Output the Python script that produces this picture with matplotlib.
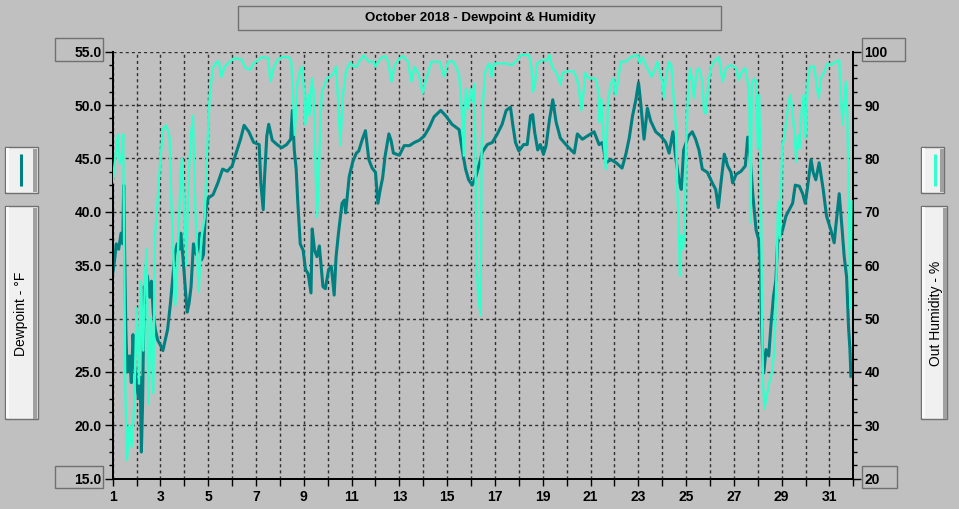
import matplotlib
matplotlib.use("Agg")
import matplotlib.pyplot as plt
from matplotlib.patches import Rectangle
from matplotlib.lines import Line2D
from matplotlib.ticker import MultipleLocator, FixedLocator

plt.rcParams['font.family'] = ['Liberation Sans', 'DejaVu Sans']

title = "October 2018 - Dewpoint & Humidity"
left_label = "Dewpoint - °F"
right_label = "Out Humidity - %"

# dewpoint (deg F)
dew_day = [1.0, 1.08, 1.15, 1.25, 1.35, 1.42, 1.46, 1.5, 1.55, 1.6, 1.7, 1.78, 1.85, 1.92,
           2.0, 2.08, 2.15, 2.2, 2.25, 2.32, 2.4, 2.45, 2.55, 2.62, 2.7, 2.78, 2.88,
           3.0, 3.1, 3.2, 3.3, 3.42, 3.5, 3.6, 3.7, 3.8, 3.85, 3.95,
           4.05, 4.12, 4.2, 4.28, 4.38, 4.5, 4.6, 4.65, 4.72, 4.8, 4.88,
           5.0, 5.2, 5.4, 5.6, 5.8, 6.0, 6.15, 6.35, 6.5, 6.7, 6.9,
           7.13, 7.2, 7.3, 7.35, 7.45, 7.53, 7.68, 7.88, 8.07, 8.28, 8.45, 8.52, 8.6, 8.68,
           8.75, 8.85, 8.97, 9.07, 9.18, 9.3, 9.35, 9.45, 9.55, 9.65, 9.8, 9.9,
           10.04, 10.15, 10.27, 10.35, 10.45, 10.6, 10.7, 10.75, 10.9, 11.05, 11.2,
           11.3, 11.45, 11.58, 11.72, 11.86, 12.0, 12.1, 12.2, 12.3, 12.4, 12.56, 12.65, 12.75,
           13.0, 13.2, 13.42, 13.63, 13.83, 14.04, 14.25, 14.45, 14.73, 14.94, 15.2, 15.5,
           15.63, 15.77, 15.9, 16.05, 16.2, 16.35, 16.47, 16.68, 16.89, 17.1, 17.3, 17.47,
           17.65, 17.75, 17.86, 18.0, 18.2, 18.35, 18.49, 18.58, 18.66, 18.79, 18.9,
           19.03, 19.14, 19.28, 19.42, 19.56, 19.74, 19.97, 20.18, 20.32, 20.45, 20.66,
           20.87, 21.15, 21.36, 21.5, 21.65, 21.85, 22.07, 22.32, 22.48, 22.62, 22.76,
           22.9, 23.01, 23.1, 23.24, 23.38, 23.52, 23.73, 23.94, 24.15, 24.29, 24.45,
           24.56, 24.7, 24.8, 24.9, 25.1, 25.26, 25.4, 25.54, 25.68, 25.89, 26.1, 26.24,
           26.35, 26.46, 26.6, 26.74, 26.88, 26.95, 27.09, 27.3, 27.48, 27.58, 27.68,
           27.79, 27.93, 28.04, 28.11, 28.18, 28.25, 28.35, 28.46, 28.55, 28.66, 28.76,
           28.83, 28.92, 29.04, 29.18, 29.32, 29.46, 29.57, 29.74, 29.88, 29.99, 30.09,
           30.23, 30.32, 30.43, 30.57, 30.74, 30.88, 31.06, 31.2, 31.27, 31.41, 31.52,
           31.62, 31.72, 31.8, 31.86, 31.9]
dew_f = [34.2, 35.5, 37.0, 36.5, 38.0, 37.0, 42.5, 36.0, 29.0, 25.0, 26.5, 24.0, 28.5, 25.5,
         24.0, 22.5, 24.5, 17.5, 22.0, 33.0, 31.5, 34.0, 32.0, 33.5, 30.5, 29.0, 28.0,
         27.5, 27.0, 28.0, 29.0, 31.5, 33.5, 36.0, 37.0, 36.5, 38.0, 35.5,
         32.5, 30.6, 31.5, 33.0, 37.0, 36.0, 37.0, 38.0, 35.5, 36.0, 40.0,
         41.3, 41.6, 42.7, 44.0, 43.8, 44.3, 45.4, 46.8, 48.1, 47.5, 46.5,
         46.3, 42.7, 40.2, 43.0, 47.1, 48.2, 46.7, 46.3, 46.0, 46.3, 46.8, 49.5, 45.8, 44.0,
         40.8, 37.0, 36.4, 34.6, 34.2, 32.4, 38.4, 36.4, 35.8, 36.8, 33.0, 32.8,
         34.6, 34.9, 32.2, 35.8, 38.0, 40.8, 41.1, 39.9, 43.3, 44.7, 45.5,
         45.7, 46.8, 47.6, 44.9, 44.1, 43.7, 40.8, 42.1, 43.2, 45.2, 47.3, 46.7, 45.5,
         45.3, 46.2, 46.2, 46.5, 46.7, 47.1, 47.9, 48.9, 49.5, 49.0, 48.2, 47.7,
         45.8, 44.0, 43.0, 42.5, 43.3, 44.5, 45.6, 46.3, 46.5, 47.3, 48.2, 49.5,
         49.8, 48.1, 46.5, 45.7, 46.3, 46.3, 49.0, 49.1, 47.5, 45.8, 46.3,
         45.4, 46.2, 48.6, 50.5, 48.4, 46.9, 46.3, 45.8, 45.5, 47.3, 46.8,
         47.1, 47.5, 46.3, 46.5, 44.6, 44.9, 44.6, 44.1, 45.4, 46.9, 49.0,
         50.5, 52.1, 50.2, 46.8, 49.7, 48.5, 47.5, 47.1, 46.5, 45.5, 47.5,
         45.2, 43.0, 42.1, 45.8, 47.1, 47.5, 46.8, 45.8, 44.0, 43.7, 42.7, 42.1,
         40.4, 42.7, 45.4, 44.3, 43.7, 42.7, 43.5, 43.8, 44.3, 47.0, 45.2,
         41.7, 38.3, 37.4, 34.9, 28.0, 24.9, 27.1, 26.5, 29.3, 32.1, 33.6,
         37.1, 37.7, 38.3, 39.6, 40.2, 40.8, 42.5, 42.4, 41.7, 40.8, 42.4,
         44.9, 43.7, 43.0, 44.6, 42.1, 39.6, 38.3, 37.1, 38.7, 41.7, 38.7,
         35.8, 33.9, 29.2, 27.1, 24.6]

# outside humidity (%)
hum_day = [1.0, 1.15, 1.22, 1.3, 1.4, 1.44, 1.48, 1.53, 1.6, 1.7, 1.8, 1.9, 2.0, 2.1,
           2.18, 2.28, 2.35, 2.42, 2.49, 2.6, 2.7, 2.77, 2.91, 3.0, 3.1, 3.24, 3.38,
           3.45, 3.53, 3.62, 3.73, 3.83, 3.9, 3.98, 4.08, 4.18, 4.29, 4.36, 4.43, 4.5,
           4.6, 4.71, 4.85, 4.96, 5.06, 5.2, 5.34, 5.44, 5.55, 5.69, 5.9, 6.1, 6.4,
           6.55, 6.75, 6.9, 7.25, 7.5, 7.6, 7.74, 7.88, 8.09, 8.37, 8.48, 8.55, 8.62,
           8.72, 8.83, 8.93, 9.0, 9.06, 9.17, 9.24, 9.34, 9.41, 9.48, 9.55, 9.62, 9.69,
           9.76, 9.87, 9.97, 10.11, 10.25, 10.35, 10.43, 10.53, 10.62, 10.76, 10.94,
           11.08, 11.22, 11.3, 11.51, 11.72, 11.93, 12.0, 12.2, 12.4, 12.53, 12.67,
           12.81, 13.0, 13.15, 13.36, 13.5, 13.64, 13.78, 13.88, 13.97, 14.13, 14.34,
           14.69, 14.87, 15.04, 15.25, 15.39, 15.5, 15.6, 15.7, 15.78, 15.88, 15.98,
           16.07, 16.13, 16.18, 16.23, 16.3, 16.4, 16.44, 16.5, 16.58, 16.68, 16.77,
           16.86, 16.96, 17.16, 17.44, 17.72, 17.93, 18.07, 18.42, 18.53, 18.59, 18.67,
           18.77, 18.98, 19.19, 19.28, 19.4, 19.53, 19.67, 19.74, 19.83, 20.0, 20.29,
           20.43, 20.53, 20.61, 20.71, 20.78, 20.92, 21.2, 21.31, 21.37, 21.45, 21.54,
           21.64, 21.74, 21.85, 21.96, 22.05, 22.15, 22.26, 22.47, 22.68, 22.96, 23.07,
           23.17, 23.31, 23.45, 23.55, 23.66, 23.8, 23.91, 24.0, 24.08, 24.15, 24.28,
           24.38, 24.5, 24.58, 24.63, 24.7, 24.74, 24.81, 24.88, 24.95, 25.0, 25.08,
           25.17, 25.26, 25.33, 25.44, 25.54, 25.68, 25.75, 25.82, 25.91, 26.03, 26.17,
           26.37, 26.53, 26.67, 26.88, 27.09, 27.2, 27.34, 27.48, 27.58, 27.65, 27.7,
           27.75, 27.86, 27.93, 28.0, 28.06, 28.13, 28.18, 28.22, 28.28, 28.38, 28.49,
           28.6, 28.7, 28.8, 28.85, 28.93, 29.02, 29.12, 29.26, 29.36, 29.44, 29.54,
           29.61, 29.68, 29.75, 29.82, 29.92, 30.0, 30.09, 30.19, 30.37, 30.46, 30.55,
           30.65, 30.79, 30.93, 31.07, 31.27, 31.41, 31.48, 31.55, 31.62, 31.69, 31.75,
           31.8, 31.85, 31.88, 31.92]
hum_pct = [75.5, 82.0, 84.5, 79.0, 80.8, 84.5, 62.8, 35.8, 23.5, 30.0, 26.0, 34.0, 52.0, 37.8,
           57.0, 44.0, 58.0, 63.0, 34.0, 50.0, 36.0, 65.5, 74.0, 80.0, 85.5, 86.2, 84.0,
           72.5, 63.0, 52.5, 62.3, 75.0, 80.0, 72.5, 60.0, 77.0, 85.0, 88.0, 75.0, 65.0,
           55.0, 65.0, 69.0, 82.0, 92.0, 97.0, 98.0, 98.2, 95.3, 97.2, 98.1, 98.8, 98.5,
           97.0, 96.6, 97.8, 99.0, 98.8, 94.4, 97.0, 98.4, 99.0, 99.0, 98.0, 91.3, 84.4,
           93.8, 96.3, 97.2, 93.0, 86.3, 92.0, 88.0, 95.0, 92.5, 80.0, 69.0, 75.5, 87.0,
           92.5, 93.8, 95.0, 95.3, 96.0, 97.2, 91.3, 82.5, 91.0, 96.3, 98.0,
           97.2, 97.2, 98.1, 99.3, 98.1, 98.1, 97.2, 98.7, 99.2, 98.1, 94.4,
           97.5, 98.7, 99.2, 98.1, 94.4, 97.2, 96.0, 94.4, 92.2, 95.0, 98.1,
           98.1, 95.3, 98.1, 98.2, 97.0, 95.6, 90.0, 80.5, 93.0, 89.3, 93.0,
           90.6, 94.0, 81.8, 60.0, 54.0, 50.6, 81.0, 90.6, 96.0, 97.2, 97.8,
           95.3, 97.8, 97.8, 97.8, 97.5, 98.4, 99.4, 99.4, 97.0, 92.5, 93.8,
           97.8, 98.4, 98.4, 99.4, 97.0, 96.3, 95.0, 93.8, 96.0, 96.3, 96.3,
           95.0, 92.5, 89.0, 92.5, 96.0, 95.0, 95.0, 93.0, 86.7, 91.2, 84.4,
           78.0, 91.3, 93.8, 95.0, 91.9, 94.4, 98.1, 98.1, 99.0, 99.4, 97.8,
           99.0, 97.5, 96.3, 95.3, 96.3, 98.1, 96.0, 94.4, 91.3, 95.0, 98.1,
           97.5, 90.0, 85.6, 74.4, 66.9, 58.0, 65.6, 63.0, 68.0, 81.8, 92.5,
           96.9, 94.4, 91.3, 96.3, 96.9, 94.4, 88.8, 88.4, 93.1, 96.9, 98.2,
           99.0, 94.4, 96.9, 97.5, 96.9, 94.7, 96.3, 96.9, 94.4, 90.6, 68.0,
           93.8, 95.0, 94.4, 81.8, 91.9, 75.6, 50.6, 38.1, 33.1, 35.6, 38.1,
           40.0, 44.4, 60.6, 71.9, 65.0, 81.8, 84.4, 89.4, 91.9, 89.4, 84.4,
           79.4, 84.4, 81.8, 88.1, 91.9, 83.8, 94.4, 97.2, 97.2, 93.8, 91.3,
           95.0, 96.3, 97.8, 97.5, 98.1, 98.4, 91.3, 86.3, 91.3, 94.4, 88.0,
           75.6, 60.0, 52.0, 72.0]

W, H = 959, 509
bg = '#C0C0C0'
teal = '#008080'
aqua = '#33FFCC'

fig = plt.figure(figsize=(W / 100, H / 100), dpi=100, facecolor=bg)


def fx(x):
    return x / W


def fy(y):
    return 1 - y / H


def box(x0, y0, x1, y1, face='none', ec='#707070', lw=1.0):
    r = Rectangle((fx(x0), fy(y1)), fx(x1) - fx(x0), fy(y0) - fy(y1),
                  transform=fig.transFigure, facecolor=face, edgecolor=ec, lw=lw, zorder=5)
    fig.add_artist(r)


def panel(x0, y0, x1, y1):
    # light 3d-style panel like the legend boxes
    box(x0, y0, x1, y1, face='#F0F0F0')
    fig.add_artist(Rectangle((fx(x1 - 4.5), fy(y1 - 0.5)), fx(4), fy(y0 + 2) - fy(y1 - 0.5),
                             transform=fig.transFigure, facecolor='#A0A0A0', lw=0, zorder=6))
    fig.add_artist(Rectangle((fx(x0 + 1), fy(y1 - 1)), fx(3), fy(y0 + 1) - fy(y1 - 1),
                             transform=fig.transFigure, facecolor='#FAFAFA', lw=0, zorder=6))


ax = fig.add_axes([fx(112.7), fy(478.7), fx(853.3) - fx(112.7), fy(51.7) - fy(478.7)])
ax.set_facecolor(bg)
ax2 = ax.twinx()

ax.plot(dew_day, dew_f, color=teal, lw=2.2, zorder=3)
ax2.plot(hum_day, hum_pct, color=aqua, lw=1.7, zorder=3)

ax.set_xlim(1, 32)
ax.set_ylim(15, 55)
ax2.set_ylim(20, 100)

ax.xaxis.set_major_locator(FixedLocator(range(1, 33)))
ax.set_xticklabels([str(d) if d % 2 == 1 and d < 32 else '' for d in range(1, 33)])
ax.yaxis.set_major_locator(MultipleLocator(5))
ax.yaxis.set_minor_locator(MultipleLocator(1.25))
ax.yaxis.set_major_formatter(matplotlib.ticker.FormatStrFormatter('%.1f'))
ax2.yaxis.set_major_locator(MultipleLocator(10))
ax2.yaxis.set_minor_locator(MultipleLocator(2.5))

ax.grid(True, which='major', color='#303030', linestyle=(0, (2.2, 2.2)), lw=1.0)
ax.set_axisbelow(True)

for a in (ax, ax2):
    a.spines['top'].set_visible(False)
    for s in ('left', 'right', 'bottom'):
        a.spines[s].set_color('black')
        a.spines[s].set_linewidth(1.3)

ax.tick_params(axis='x', which='major', direction='out', length=5, width=1, pad=3)
ax.tick_params(axis='y', which='major', direction='out', length=6, width=1, pad=2)
ax.tick_params(axis='y', which='minor', direction='out', length=3, width=1)
ax2.tick_params(axis='y', which='major', direction='out', length=6, width=1, pad=2)
ax2.tick_params(axis='y', which='minor', direction='out', length=3, width=1)
for lab in ax.get_xticklabels() + ax.get_yticklabels() + ax2.get_yticklabels():
    lab.set_fontsize(10)
    lab.set_fontweight('bold')

# boxes around end labels
box(55, 38, 103, 61)
box(55, 466, 103, 488)
box(862, 38, 905, 61)
box(862, 466, 897, 488)

# title
box(238, 6, 721, 30)
fig.text(fx(480.5), fy(18), title, ha='center', va='center', fontsize=9.6, fontweight='bold')

# left legend panels
panel(5, 147, 37.5, 193)
fig.add_artist(Line2D([fx(21), fx(21)], [fy(154), fy(186)], transform=fig.transFigure,
                      color=teal, lw=2.2, solid_capstyle='butt', zorder=7))
panel(5, 206, 37.5, 419)
fig.text(fx(21), fy(314), left_label, rotation=90, ha='center', va='center', fontsize=10, zorder=8)

# right legend panels
panel(921, 147, 944, 193)
fig.add_artist(Line2D([fx(935), fx(935)], [fy(154), fy(186)], transform=fig.transFigure,
                      color=aqua, lw=2.2, solid_capstyle='butt', zorder=7))
panel(921, 206, 947, 419)
fig.text(fx(936), fy(313), right_label, rotation=90, ha='center', va='center', fontsize=10, zorder=8)

fig.savefig('out.png', dpi=100, facecolor=bg)
